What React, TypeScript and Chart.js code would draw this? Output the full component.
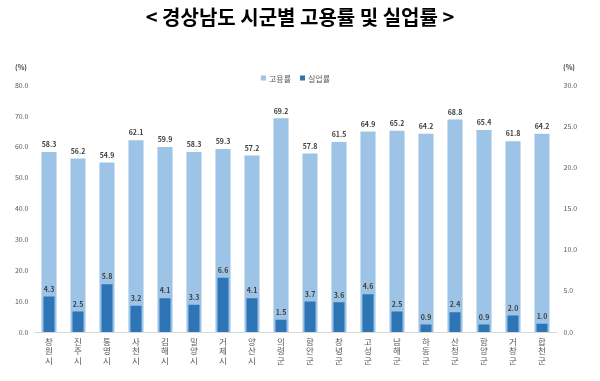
import React, { useEffect, useRef } from "react";
import { Chart, registerables } from "chart.js";

Chart.register(...registerables);

const categories = ["창원시", "진주시", "통영시", "사천시", "김해시", "밀양시", "거제시", "양산시", "의령군", "함안군", "창녕군", "고성군", "남해군", "하동군", "산청군", "함양군", "거창군", "합천군"];
const employmentRate = [58.3, 56.2, 54.9, 62.1, 59.9, 58.3, 59.3, 57.2, 69.2, 57.8, 61.5, 64.9, 65.2, 64.2, 68.8, 65.4, 61.8, 64.2];
const unemploymentRate = [4.3, 2.5, 5.8, 3.2, 4.1, 3.3, 6.6, 4.1, 1.5, 3.7, 3.6, 4.6, 2.5, 0.9, 2.4, 0.9, 2.0, 1.0];
const seriesNames = ["고용률", "실업률"];
const titleText = "< 경상남도 시군별 고용률 및 실업률 >";
const unitLabel = "(%)";

const LIGHT = "#9DC3E6";
const DARK = "#2E75B6";
const FONT = "'Noto Sans CJK KR', 'Noto Sans', sans-serif";

const extrasPlugin = {
  id: "extras",
  afterDatasetsDraw(chart: any) {
    const ctx = chart.ctx;
    ctx.save();
    ctx.font = `bold 7px ${FONT}`;
    ctx.fillStyle = "#404040";
    ctx.textAlign = "center";
    ctx.textBaseline = "bottom";
    chart.data.datasets.forEach((ds: any, i: number) => {
      const meta = chart.getDatasetMeta(i);
      meta.data.forEach((bar: any, j: number) => {
        ctx.fillText(Number(ds.data[j]).toFixed(1), bar.x, bar.y - 4);
      });
    });
    ctx.restore();
  },
  afterDraw(chart: any) {
    const ctx = chart.ctx;
    const area = chart.chartArea;
    ctx.save();
    ctx.font = `bold 7px ${FONT}`;
    ctx.fillStyle = "#404040";
    ctx.textBaseline = "middle";
    ctx.textAlign = "center";
    ctx.fillText(unitLabel, 21, 67);
    ctx.fillText(unitLabel, 569, 67);
    ctx.font = `8px ${FONT}`;
    ctx.textAlign = "left";
    const colors = [LIGHT, DARK];
    const y = 78;
    const box = 5;
    const gap = 3;
    const spacing = 9;
    const widths = seriesNames.map((n) => box + gap + ctx.measureText(n).width);
    const total = widths.reduce((a, b) => a + b, 0) + spacing;
    let x = (area.left + area.right) / 2 - total / 2;
    seriesNames.forEach((n, i) => {
      ctx.fillStyle = colors[i];
      ctx.fillRect(x, y - box / 2, box, box);
      ctx.fillStyle = "#595959";
      ctx.fillText(n, x + box + gap, y + 0.5);
      x += widths[i] + spacing;
    });
    ctx.restore();
  },
};

export default function App() {
  const ref = useRef<HTMLCanvasElement>(null);
  useEffect(() => {
    document.body.style.margin = "0";
    const chart = new Chart(ref.current!, {
      type: "bar",
      data: {
        labels: categories.map((c) => Array.from(c.normalize("NFC"))),
        datasets: [
          {
            label: seriesNames[0],
            data: employmentRate,
            backgroundColor: LIGHT,
            yAxisID: "y",
            grouped: false,
            order: 1,
            barPercentage: 0.52,
            categoryPercentage: 1,
          } as any,
          {
            label: seriesNames[1],
            data: unemploymentRate,
            backgroundColor: DARK,
            yAxisID: "y1",
            grouped: false,
            order: 0,
            barPercentage: 0.38,
            categoryPercentage: 1,
          } as any,
        ],
      },
      options: {
        animation: false,
        responsive: false,
        layout: { padding: { top: 0, left: 0, right: 0, bottom: 0 } },
        plugins: {
          legend: { display: false },
          tooltip: { enabled: false },
          title: {
            display: true,
            text: titleText,
            font: { family: FONT, size: 20, weight: "bold" },
            color: "#000000",
            padding: { top: 5, bottom: 56 },
          },
        },
        scales: {
          x: {
            grid: { display: false, drawTicks: false },
            border: { display: true, color: "#D9D9D9" },
            ticks: {
              color: "#595959",
              font: { family: FONT, size: 8.5, lineHeight: 1.1 },
              padding: 5,
              maxRotation: 0,
              autoSkip: false,
            },
            afterFit(scale: any) {
              scale.height = 49;
            },
          },
          y: {
            position: "left",
            min: 0,
            max: 80,
            grid: { display: false, drawTicks: false },
            border: { display: false },
            ticks: {
              stepSize: 10,
              color: "#595959",
              font: { family: FONT, size: 7 },
              padding: 6,
              callback: (v: any) => Number(v).toFixed(1),
            },
            afterFit(scale: any) {
              scale.width = 34.5;
            },
          },
          y1: {
            position: "right",
            min: 0,
            max: 30,
            grid: { display: false, drawTicks: false },
            border: { display: false },
            ticks: {
              stepSize: 5,
              color: "#595959",
              font: { family: FONT, size: 7 },
              padding: 7,
              callback: (v: any) => Number(v).toFixed(1),
            },
            afterFit(scale: any) {
              scale.width = 43.5;
            },
          },
        },
      },
      plugins: [extrasPlugin],
    });
    return () => chart.destroy();
  }, []);
  return <canvas ref={ref} width={600} height={381} style={{ display: "block" }} />;
}
